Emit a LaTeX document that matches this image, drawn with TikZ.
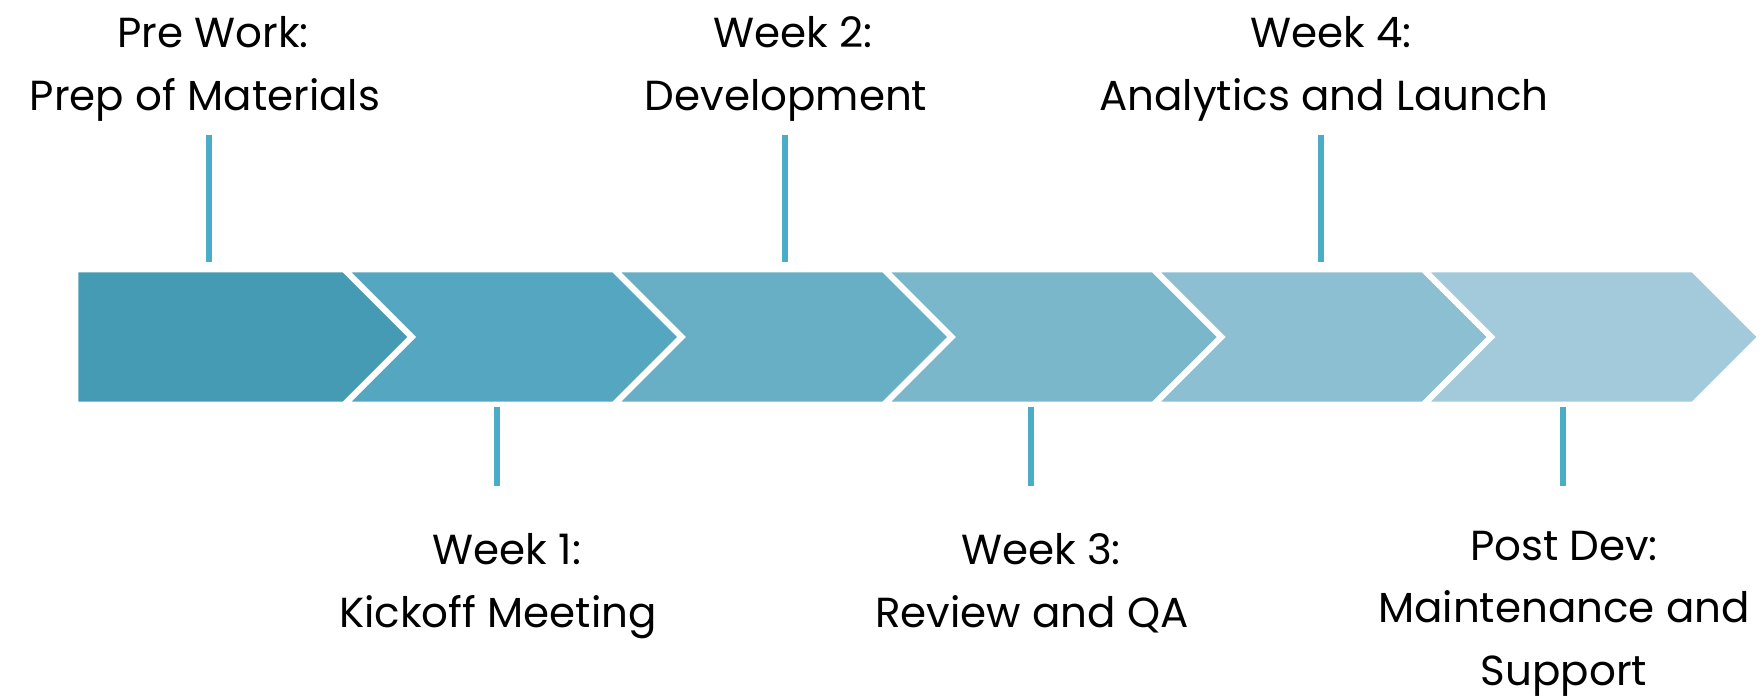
\documentclass[tikz,border=0pt]{standalone}
\usepackage{fontspec}
\setmainfont{Poppins}
\definecolor{c0}{HTML}{459BB4}
\definecolor{c1}{HTML}{55A6C0}
\definecolor{c2}{HTML}{68AEC5}
\definecolor{c3}{HTML}{7AB7CB}
\definecolor{c4}{HTML}{8DBFD3}
\definecolor{c5}{HTML}{A2CADA}
\definecolor{tick}{HTML}{4BACC6}
\begin{document}
\begin{tikzpicture}[x=1pt,y=-1pt,
  chev/.style={draw=white,line width=6pt,line join=miter},
  tickline/.style={draw=tick,line width=6pt},
  lbl/.style={align=center,anchor=base,inner sep=0pt,font=\fontsize{42}{62.4}\selectfont}]
\useasboundingbox[fill=white] (0,0) rectangle (1763,699);
\def\T{269.3}\def\B{404.7}\def\M{337}\def\D{67.7}
% chevrons
\fill[c0,chev] (75.3,\T) -- (344.2,\T) -- ({344.2+\D},\M) -- (344.2,\B) -- (75.3,\B) -- cycle;
\foreach \k/\col in {1/c1,2/c2,3/c3,4/c4,5/c5}{
  \pgfmathsetmacro{\a}{344.2+269.8*(\k-1)}
  \pgfmathsetmacro{\b}{344.2+269.8*\k}
  \fill[\col,chev] (\a,\T) -- (\b,\T) -- ({\b+\D},\M) -- (\b,\B) -- (\a,\B) -- ({\a+\D},\M) -- cycle;
}
% tick lines
\coordinate (t0a) at (209,135); \coordinate (t0b) at (209,262);
\coordinate (t2a) at (785,135); \coordinate (t2b) at (785,262);
\coordinate (t4a) at (1321,135); \coordinate (t4b) at (1321,262);
\coordinate (b1a) at (497,407); \coordinate (b1b) at (497,486);
\coordinate (b3a) at (1031,407); \coordinate (b3b) at (1031,486);
\coordinate (b5a) at (1563,407); \coordinate (b5b) at (1563,486);
\draw[tickline] (t0a) -- (t0b);
\draw[tickline] (t2a) -- (t2b);
\draw[tickline] (t4a) -- (t4b);
\draw[tickline] (b1a) -- (b1b);
\draw[tickline] (b3a) -- (b3b);
\draw[tickline] (b5a) -- (b5b);
% labels (base anchor = baseline of last line)
\node[lbl] (pre) at (205,110) {\hspace*{16pt}Pre Work:\\Prep of Materials};
\node[lbl] (w2) at (786,110) {\hspace*{14pt}Week 2:\\Development};
\node[lbl] (w4) at (1324,110) {\hspace*{14pt}Week 4:\\Analytics and Launch};
\node[lbl] (w1) at (498,627) {\hspace*{18pt}Week 1:\\Kickoff Meeting};
\node[lbl] (w3) at (1032,627) {\hspace*{18pt}Week 3:\\Review and QA};
\node[lbl] (pd) at (1564,685) {Post Dev:\\Maintenance and\\Support};
\end{tikzpicture}
\end{document}
